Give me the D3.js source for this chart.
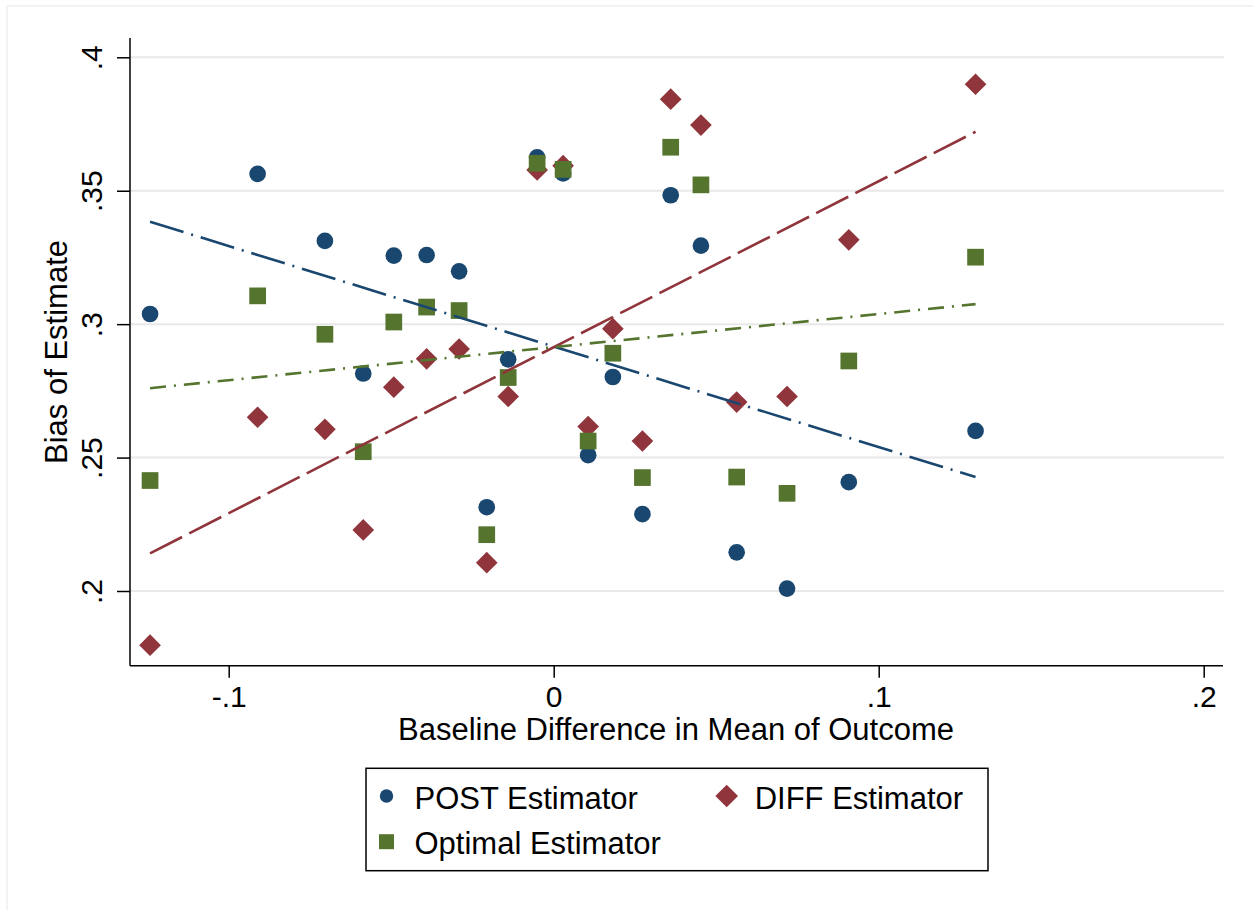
<!DOCTYPE html>
<html>
<head>
<meta charset="utf-8">
<title>Bias of Estimate</title>
<style>
	body { margin: 0; background: #fff; }
	svg { display: block; font-family: "Liberation Sans", Arial, Helvetica, sans-serif; }
</style>
</head>
<body>
<script src="https://cdn.jsdelivr.net/npm/d3@7/dist/d3.min.js"></script>
<script>
// baseline difference in mean of outcome (shared by all three estimators)
var baseDiff = [-0.1242, -0.0911, -0.0704, -0.0586, -0.0492, -0.0391, -0.0291, -0.0206, -0.0140, -0.0051,
	0.0029, 0.0106, 0.0182, 0.0273, 0.0360, 0.0453, 0.0563, 0.0718, 0.0908, 0.1298];
var postBias = [0.3038, 0.3563, 0.3312, 0.2815, 0.3257, 0.3259, 0.3198, 0.2314, 0.2868, 0.3625,
	0.3565, 0.2509, 0.2802, 0.2288, 0.3483, 0.3294, 0.2145, 0.2009, 0.2408, 0.2600];
var diffBias = [0.1797, 0.2651, 0.2606, 0.2229, 0.2764, 0.2870, 0.2907, 0.2106, 0.2729, 0.3578,
	0.3594, 0.2616, 0.2983, 0.2562, 0.3843, 0.3746, 0.2708, 0.2729, 0.3316, 0.3899];
var optBias = [0.2414, 0.3106, 0.2962, 0.2522, 0.3008, 0.3064, 0.3051, 0.2211, 0.2800, 0.3603,
	0.3580, 0.2562, 0.2891, 0.2425, 0.3663, 0.3522, 0.2427, 0.2366, 0.2862, 0.3251];
// linear fit lines, value at the smallest and largest baseline difference
var postFit = [0.3384, 0.2427];
var diffFit = [0.2141, 0.3721];
var optFit = [0.2760, 0.3075];
var seriesNames = ["POST Estimator", "DIFF Estimator", "Optimal Estimator"];
var xTicks = [-0.1, 0, 0.1, 0.2];
var yTicks = [0.2, 0.25, 0.3, 0.35, 0.4];

var width = 1253, height = 910;
var plotLeft = 130, plotRight = 1223, plotTop = 38, plotBottom = 665.7;
var navy = "#1a476f", maroon = "#90353b", green = "#55752f";

var svg = d3.select("body").append("svg")
	.attr("width", width)
	.attr("height", height);

// faint outer frame (only top and left edges show)
svg.append("line").attr("x1", 7).attr("x2", width).attr("y1", 6).attr("y2", 6)
	.attr("stroke", "#efefef").attr("stroke-width", 1.5);
svg.append("line").attr("x1", 7).attr("x2", 7).attr("y1", 6).attr("y2", height)
	.attr("stroke", "#efefef").attr("stroke-width", 1.5);

var x = d3.scaleLinear().domain([-0.1, 0.2]).range([228.7, 1203.7]);
var y = d3.scaleLinear().domain([0.2, 0.4]).range([591, 57.3]);

// stata style labels: .1, -.1, 0, .35
function fmt(v) {
	return String(+v.toFixed(3)).replace(/^(-?)0\./, "$1.");
}

// grid
svg.append("g").selectAll("line")
	.data(yTicks)
	.enter().append("line")
	.attr("x1", plotLeft).attr("x2", plotRight + 1)
	.attr("y1", function(d) { return y(d); })
	.attr("y2", function(d) { return y(d); })
	.attr("stroke", "#e8e8e8")
	.attr("stroke-width", 2);

// y axis
var yAxis = svg.append("g")
	.attr("transform", "translate(" + plotLeft + ",0)")
	.call(d3.axisLeft(y).tickValues(yTicks).tickSize(13).tickFormat(fmt));
yAxis.select(".domain").remove();
yAxis.selectAll(".tick line").attr("stroke", "#000").attr("stroke-width", 1.5);
yAxis.selectAll(".tick text")
	.attr("x", null).attr("dy", null)
	.attr("transform", "translate(-28,0) rotate(-90)")
	.attr("text-anchor", "middle")
	.attr("fill", "#000")
	.style("font-size", "30px")
	.style("font-family", "'Liberation Sans', Arial, sans-serif");
svg.append("line").attr("x1", plotLeft).attr("x2", plotLeft).attr("y1", plotTop).attr("y2", plotBottom)
	.attr("stroke", "#000").attr("stroke-width", 1.5);

// x axis
var xAxis = svg.append("g")
	.attr("transform", "translate(0," + plotBottom + ")")
	.call(d3.axisBottom(x).tickValues(xTicks).tickSize(12).tickFormat(fmt));
xAxis.select(".domain").remove();
xAxis.selectAll(".tick line").attr("stroke", "#000").attr("stroke-width", 1.5);
xAxis.selectAll(".tick text")
	.attr("y", 41.3).attr("dy", null)
	.attr("fill", "#000")
	.style("font-size", "30px")
	.style("font-family", "'Liberation Sans', Arial, sans-serif");
svg.append("line").attr("x1", plotLeft).attr("x2", plotRight).attr("y1", plotBottom).attr("y2", plotBottom)
	.attr("stroke", "#000").attr("stroke-width", 1.5);

// axis titles
svg.append("text")
	.attr("transform", "translate(67,352) rotate(-90)")
	.attr("text-anchor", "middle")
	.style("font-size", "31px")
	.text("Bias of Estimate");
svg.append("text")
	.attr("x", 676).attr("y", 740)
	.attr("text-anchor", "middle")
	.style("font-size", "31px")
	.text("Baseline Difference in Mean of Outcome");

var series = [
	{ name: seriesNames[0], values: postBias, fit: postFit, color: navy, shape: "circle", dash: "35,8,2,8" },
	{ name: seriesNames[1], values: diffBias, fit: diffFit, color: maroon, shape: "diamond", dash: "36,8" },
	{ name: seriesNames[2], values: optBias, fit: optFit, color: green, shape: "square", dash: "16,8,2,8" }
];

function markerPath(shape, big) {
	var sizes = big ? { circle: 218, diamond: 235, square: 279 } : { circle: 141, diamond: 256, square: 225 };
	var type = shape == "circle" ? d3.symbolCircle : d3.symbolSquare;
	return d3.symbol().type(type).size(sizes[shape])();
}

// markers
series.forEach(function(s) {
	svg.append("g").selectAll("path")
		.data(s.values)
		.enter().append("path")
		.attr("d", markerPath(s.shape, true))
		.attr("fill", s.color)
		.attr("transform", function(d, i) {
			return "translate(" + x(baseDiff[i]) + "," + y(d) + ")" + (s.shape == "diamond" ? " rotate(45)" : "");
		});
});

// linear fits
var line = d3.line()
	.x(function(d) { return x(d[0]); })
	.y(function(d) { return y(d[1]); });
var xmin = d3.min(baseDiff), xmax = d3.max(baseDiff);
series.forEach(function(s) {
	svg.append("path")
		.datum([[xmin, s.fit[0]], [xmax, s.fit[1]]])
		.attr("d", line)
		.attr("fill", "none")
		.attr("stroke", s.color)
		.attr("stroke-width", 2.6)
		.attr("stroke-dasharray", s.dash);
});

// legend
var legend = svg.append("g");
legend.append("rect")
	.attr("x", 366).attr("y", 768.3)
	.attr("width", 622).attr("height", 102.4)
	.attr("fill", "#fff")
	.attr("stroke", "#000")
	.attr("stroke-width", 1.5);
var legendPos = [[386.5, 796], [726.7, 796], [386.5, 841.7]];
series.forEach(function(s, i) {
	var p = legendPos[i];
	legend.append("path")
		.attr("d", markerPath(s.shape, false))
		.attr("fill", s.color)
		.attr("transform", "translate(" + p[0] + "," + p[1] + ")" + (s.shape == "diamond" ? " rotate(45)" : ""));
	legend.append("text")
		.attr("x", p[0] + 28)
		.attr("y", p[1] + 12.5)
		.style("font-size", "31px")
		.text(s.name);
});
</script>
</body>
</html>
